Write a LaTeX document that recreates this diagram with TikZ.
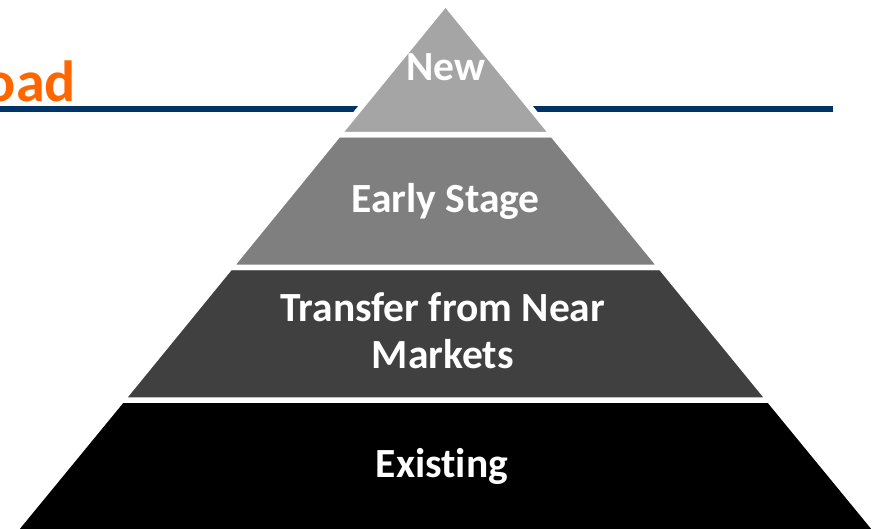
\documentclass[tikz,border=0pt]{standalone}
\usepackage{fontspec}
\setmainfont[Ligatures=NoCommon]{Carlito}
\definecolor{lvA}{HTML}{A5A5A5}
\definecolor{lvB}{HTML}{7F7F7F}
\definecolor{lvC}{HTML}{404040}
\definecolor{lvD}{HTML}{000000}
\definecolor{navy}{HTML}{003366}
\definecolor{orng}{HTML}{FF6600}
\begin{document}
\begin{tikzpicture}[x=1pt,y=-1pt,
  layer/.style={draw=white,line width=5.5pt,line join=miter},
  lbl/.style={text=white,font=\bfseries\fontsize{41.5}{46.6}\selectfont,inner sep=0pt,align=center}]
\useasboundingbox (0,0) rectangle (875,529);
% title and rule
\node[anchor=base east,inner sep=0pt,text=orng,font=\bfseries\fontsize{58}{64}\selectfont] (title) at (76,102) {oad};
\coordinate (ruleL) at (0,109.5);
\coordinate (ruleR) at (833,109.5);
\draw[navy,line width=6pt] (ruleL) -- (ruleR);
% pyramid
\coordinate (apex) at (445.5,3.5);
\coordinate (b1L) at (338.5,134.6);  \coordinate (b1R) at (552.5,134.6);
\coordinate (b2L) at (230.1,267.5);  \coordinate (b2R) at (660.9,267.5);
\coordinate (b3L) at (121.8,400.2);  \coordinate (b3R) at (769.2,400.2);
\coordinate (b4L) at (7.0,540.0);    \coordinate (b4R) at (884.0,540.0);
\filldraw[layer,fill=lvD] (b3L) -- (b3R) -- (b4R) -- (b4L) -- cycle;
\filldraw[layer,fill=lvC] (b2L) -- (b2R) -- (b3R) -- (b3L) -- cycle;
\filldraw[layer,fill=lvB] (b1L) -- (b1R) -- (b2R) -- (b2L) -- cycle;
\filldraw[layer,fill=lvA] (apex) -- (b1R) -- (b1L) -- cycle;
% labels
\node[lbl,anchor=base] (new) at (445.5,81) {New};
\node[lbl,anchor=base] (early) at (445.5,212.7) {Early Stage};
\node[lbl,anchor=base] (transfer) at (442.8,368.3) {Transfer from Near\\Markets};
\node[lbl,anchor=base] (existing) at (442,477.7) {Existing};
\end{tikzpicture}
\end{document}
